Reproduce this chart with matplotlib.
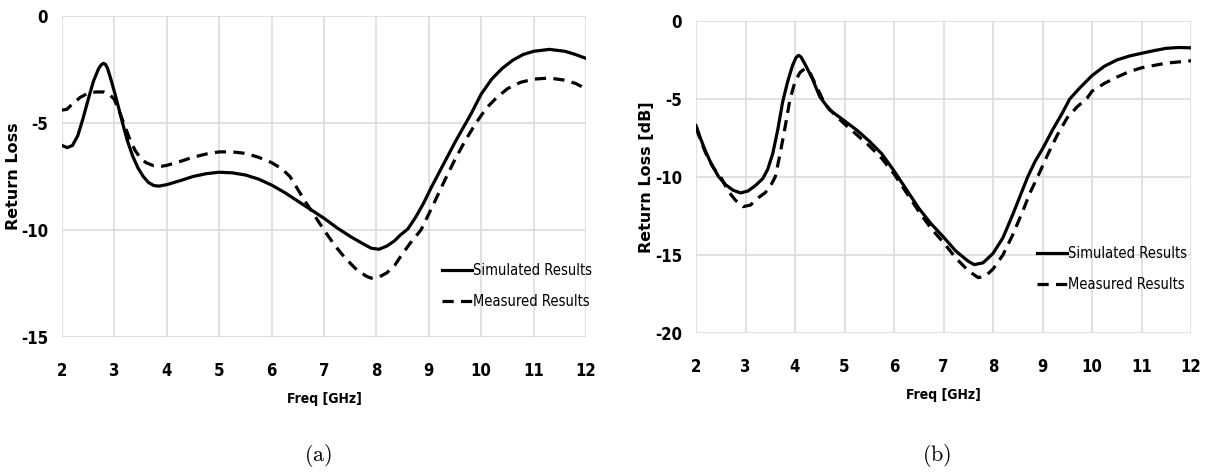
import matplotlib
matplotlib.use('Agg')
import matplotlib.pyplot as plt
from matplotlib import font_manager

# panel (a): return loss, simulated vs measured
freq_a_sim = [2.0, 2.1, 2.2, 2.3, 2.4, 2.5, 2.6, 2.7, 2.75, 2.79, 2.83, 2.87, 2.95, 3.05, 3.15,
              3.25, 3.35, 3.45, 3.55, 3.65, 3.75, 3.85, 4.0, 4.25, 4.5, 4.75, 5.0, 5.25, 5.5,
              5.75, 6.0, 6.25, 6.5, 6.75, 7.0, 7.25, 7.5, 7.75, 7.9, 8.05, 8.2, 8.35, 8.45,
              8.6, 8.75, 8.9, 9.05, 9.2, 9.35, 9.5, 9.65, 9.8, 10.0, 10.2, 10.4, 10.6, 10.8,
              11.0, 11.3, 11.6, 11.8, 12.0]
rl_a_sim = [-6.05, -6.15, -6.05, -5.6, -4.8, -3.9, -3.05, -2.45, -2.28, -2.21, -2.26, -2.45,
            -3.1, -4.0, -4.95, -5.85, -6.55, -7.1, -7.5, -7.78, -7.92, -7.95, -7.88, -7.7,
            -7.5, -7.37, -7.3, -7.33, -7.43, -7.62, -7.9, -8.25, -8.65, -9.05, -9.45, -9.9,
            -10.3, -10.65, -10.85, -10.9, -10.75, -10.5, -10.25, -9.95, -9.4, -8.75, -8.0,
            -7.3, -6.6, -5.9, -5.25, -4.6, -3.65, -2.95, -2.45, -2.07, -1.8, -1.65, -1.56,
            -1.65, -1.8, -1.98]

freq_a_meas = [2.0, 2.1, 2.2, 2.35, 2.5, 2.65, 2.8, 2.9, 3.0, 3.1, 3.2, 3.3, 3.4, 3.5, 3.6,
               3.75, 3.9, 4.0, 4.25, 4.5, 4.75, 5.0, 5.25, 5.5, 5.75, 6.0, 6.2, 6.35, 6.5,
               6.65, 6.8, 7.0, 7.2, 7.4, 7.6, 7.8, 7.9, 8.05, 8.2, 8.35, 8.5, 8.65, 8.85,
               9.05, 9.3, 9.5, 9.7, 9.9, 10.1, 10.3, 10.5, 10.75, 11.0, 11.3, 11.6, 11.8, 12.0]
rl_a_meas = [-4.4, -4.35, -4.1, -3.8, -3.6, -3.55, -3.55, -3.65, -3.9, -4.5, -5.15, -5.8,
             -6.3, -6.65, -6.85, -7.0, -7.02, -6.98, -6.8, -6.6, -6.45, -6.35, -6.35, -6.42,
             -6.6, -6.85, -7.15, -7.5, -8.1, -8.7, -9.25, -10.0, -10.7, -11.3, -11.8,
             -12.15, -12.25, -12.2, -12.0, -11.65, -11.1, -10.6, -10.0, -9.0, -7.7, -6.7,
             -5.8, -5.0, -4.3, -3.8, -3.4, -3.1, -2.95, -2.9, -3.0, -3.15, -3.4]

# panel (b)
freq_b_sim = [2.0, 2.1, 2.2, 2.3, 2.45, 2.6, 2.75, 2.9, 3.05, 3.2, 3.35, 3.45, 3.55, 3.65,
              3.75, 3.85, 3.95, 4.02, 4.07, 4.12, 4.2, 4.35, 4.5, 4.7, 5.0, 5.25, 5.5, 5.75,
              6.0, 6.25, 6.5, 6.75, 7.0, 7.25, 7.5, 7.62, 7.8, 8.0, 8.2, 8.4, 8.55, 8.7,
              8.85, 9.0, 9.2, 9.4, 9.55, 9.75, 10.0, 10.25, 10.5, 10.75, 11.0, 11.25, 11.5,
              11.75, 12.0]
rl_b_sim = [-6.7, -7.6, -8.4, -9.1, -9.95, -10.5, -10.85, -11.02, -10.9, -10.55, -10.1, -9.5,
            -8.5, -7.0, -5.2, -3.9, -2.85, -2.35, -2.2, -2.3, -2.75, -3.7, -4.85, -5.7, -6.4,
            -7.0, -7.7, -8.5, -9.6, -10.8, -12.0, -13.0, -13.85, -14.75, -15.4, -15.62,
            -15.5, -14.9, -13.9, -12.4, -11.2, -10.0, -9.0, -8.2, -7.0, -5.9, -5.0, -4.3,
            -3.5, -2.9, -2.5, -2.25, -2.07, -1.9, -1.75, -1.7, -1.72]

freq_b_meas = [2.0, 2.1, 2.2, 2.35, 2.5, 2.65, 2.8, 2.95, 3.1, 3.25, 3.4, 3.5, 3.6, 3.7, 3.8,
               3.9, 4.0, 4.1, 4.2, 4.3, 4.45, 4.6, 4.8, 5.0, 5.25, 5.5, 5.75, 6.0, 6.25, 6.5,
               6.75, 7.0, 7.25, 7.5, 7.7, 7.85, 8.0, 8.2, 8.4, 8.6, 8.75, 8.9, 9.1, 9.3, 9.5,
               9.7, 9.9, 10.0, 10.25, 10.5, 10.75, 11.0, 11.5, 12.0]
rl_b_meas = [-6.85, -7.7, -8.5, -9.4, -10.0, -10.9, -11.5, -11.9, -11.8, -11.35, -11.0,
             -10.6, -10.0, -8.5, -6.8, -5.0, -3.9, -3.3, -3.05, -3.3, -4.3, -5.3, -6.0,
             -6.6, -7.3, -8.0, -8.8, -9.8, -11.0, -12.2, -13.3, -14.2, -15.2, -16.0, -16.45,
             -16.35, -15.9, -15.0, -13.7, -12.2, -11.0, -10.0, -8.6, -7.3, -6.2, -5.5, -4.95,
             -4.5, -4.0, -3.6, -3.25, -3.0, -2.7, -2.55]

x_ticks = list(range(2, 13))
y_ticks_a = [0, -5, -10, -15]
y_ticks_b = [0, -5, -10, -15, -20]


def narrow_font(bold):
    # look for a condensed / narrow face among installed files
    found = []
    for f in font_manager.fontManager.ttflist:
        name = f.fname.lower()
        if ('narrow' in name or 'condensed' in name) and 'italic' not in name and 'oblique' not in name:
            is_bold = 'bold' in name
            if is_bold == bold:
                found.append(f.fname)
    found.sort()
    if found:
        return font_manager.FontProperties(fname=found[0])
    return font_manager.FontProperties(family='Liberation Sans',
                                       weight='bold' if bold else 'normal')


has_narrow = any(('narrow' in f.fname.lower() or 'condensed' in f.fname.lower())
                 for f in font_manager.fontManager.ttflist)
tick_fp = narrow_font(True)
text_fp = narrow_font(False)
scale = 1.0 if has_narrow else 0.85

plt.rcParams['axes.unicode_minus'] = False
plt.rcParams['mathtext.fontset'] = 'cm'

fig = plt.figure(figsize=(12.08, 4.73), dpi=100)
W, H = 1208, 473
ax_a = fig.add_axes([62 / W, 1 - 337 / H, (586 - 62) / W, (337 - 16) / H])
ax_b = fig.add_axes([696 / W, 1 - 333 / H, (1191 - 696) / W, (333 - 21) / H])


def style(ax, yticks, ylabel, ylabel_x):
    ax.set_xlim(2, 12)
    ax.set_ylim(min(yticks), 0)
    ax.set_xticks(x_ticks)
    ax.set_yticks(yticks)
    ax.grid(True, color='#dcdcdc', linewidth=1.2)
    ax.set_axisbelow(True)
    for s in ax.spines.values():
        s.set_visible(False)
    ax.tick_params(axis='both', length=0)
    ax.tick_params(axis='x', pad=18)
    ax.tick_params(axis='y', pad=10)
    for lab in ax.get_xticklabels() + ax.get_yticklabels():
        lab.set_fontproperties(tick_fp)
        lab.set_fontsize(12 * scale)
    ax.set_xlabel('Freq [GHz]', fontproperties=tick_fp, fontsize=10 * scale, labelpad=9)
    ax.set_ylabel(ylabel, fontfamily='DejaVu Sans', fontweight='bold', fontsize=11.5)
    ax.yaxis.set_label_coords(ylabel_x, 0.5)


def curves(ax, fs, ys, fm, ym, anchor):
    ax.plot(fs, ys, color='black', linewidth=2.3, label='Simulated Results')
    ax.plot(fm, ym, color='black', linewidth=2.3, dashes=(3.5, 2.3), label='Measured Results')
    fp = text_fp.copy()
    fp.set_size(10.5 * scale)
    ax.legend(loc='center left', bbox_to_anchor=anchor, frameon=False, handlelength=2.05,
              handletextpad=0.08, labelspacing=1.1, borderpad=0, borderaxespad=0, prop=fp)


style(ax_a, y_ticks_a, 'Return Loss', -0.078)
curves(ax_a, freq_a_sim, rl_a_sim, freq_a_meas, rl_a_meas, (0.725, 0.16))
style(ax_b, y_ticks_b, 'Return Loss [dB]', -0.084)
curves(ax_b, freq_b_sim, rl_b_sim, freq_b_meas, rl_b_meas, (0.689, 0.205))

fig.text(318 / W, 1 - 455 / H, r'$\mathrm{(a)}$', ha='center', va='center', fontsize=16)
fig.text(937 / W, 1 - 455 / H, r'$\mathrm{(b)}$', ha='center', va='center', fontsize=16)

fig.savefig('out.png', dpi=100, facecolor='white')
